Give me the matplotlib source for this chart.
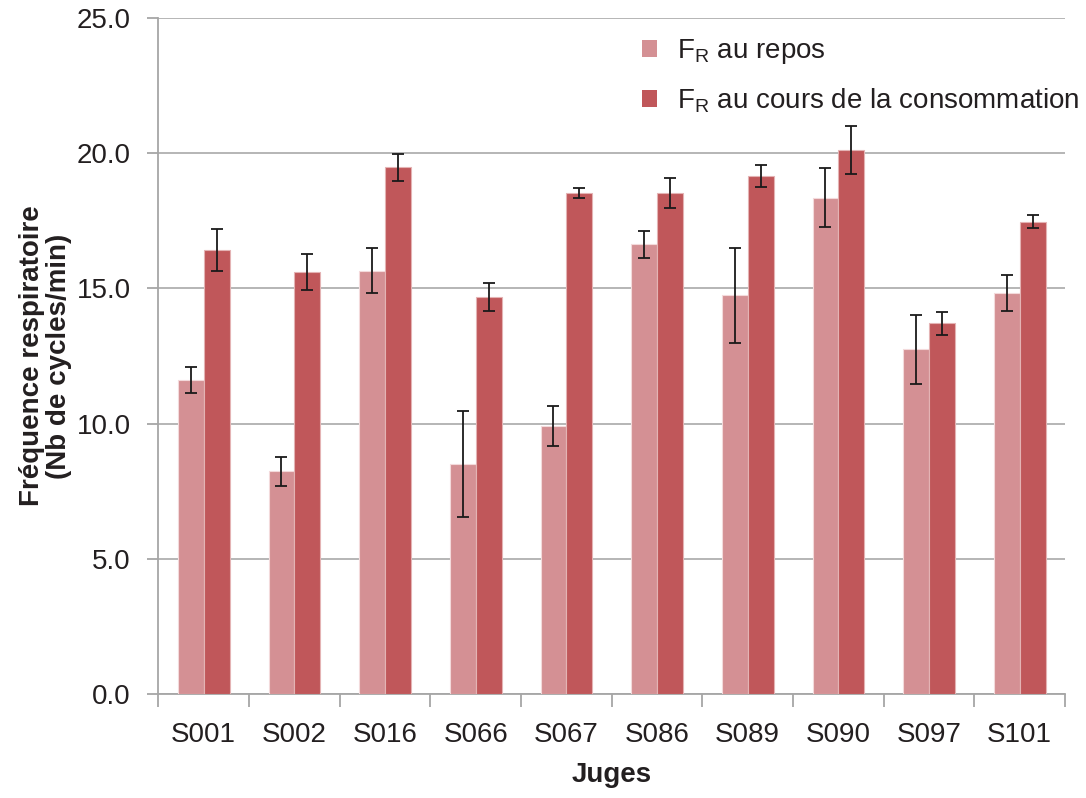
import matplotlib
matplotlib.use("Agg")
import matplotlib.pyplot as plt
import numpy as np
from matplotlib.patches import Patch

judges = ["S001", "S002", "S016", "S066", "S067", "S086", "S089", "S090", "S097", "S101"]
repos = [11.61, 8.24, 15.66, 8.52, 9.92, 16.64, 14.74, 18.35, 12.75, 14.83]
repos_err = [0.49, 0.53, 0.83, 1.96, 0.75, 0.50, 1.74, 1.09, 1.28, 0.65]
conso = [16.42, 15.61, 19.48, 14.68, 18.53, 18.53, 19.16, 20.13, 13.71, 17.47]
conso_err = [0.76, 0.68, 0.50, 0.51, 0.20, 0.56, 0.40, 0.88, 0.43, 0.24]
yticks = [0, 5, 10, 15, 20, 25]
labels = [r"F$_\mathregular{R}$ au repos", r"F$_\mathregular{R}$ au cours de la consommation"]

plt.rcParams['font.family'] = ['Liberation Sans', 'DejaVu Sans']
plt.rcParams['mathtext.fontset'] = 'custom'
plt.rcParams['mathtext.rm'] = 'Liberation Sans'

c_light = "#D49094"
c_dark = "#C0575A"
txt = "#231F20"

fig = plt.figure(figsize=(10.86, 7.98), dpi=100)
ax = fig.add_axes([0.1458, 0.1303, 0.8349, 0.8471])

x = np.arange(len(judges))
w = 0.285
ax.bar(x - w/2, repos, w, color=c_light, edgecolor="#F3DADB", linewidth=0.8, zorder=3)
ax.bar(x + w/2, conso, w, color=c_dark, edgecolor="#E4B3B4", linewidth=0.8, zorder=3)
ax.errorbar(x - w/2, repos, yerr=repos_err, fmt="none", ecolor="#1a1a1a", elinewidth=1.3, capsize=4.5, capthick=1.3, zorder=4)
ax.errorbar(x + w/2, conso, yerr=conso_err, fmt="none", ecolor="#1a1a1a", elinewidth=1.3, capsize=4.5, capthick=1.3, zorder=4)

ax.set_xlim(-0.5, len(judges) - 0.5)
ax.set_ylim(0, 25)
ax.set_yticks(yticks)
ax.set_yticklabels([f"{v:.1f}" for v in yticks], fontsize=20, color=txt)
ax.set_xticks(x)
ax.set_xticklabels(judges, fontsize=20, color=txt)
ax.tick_params(axis='x', length=0, pad=20)
ax.set_xticks(np.arange(-0.5, len(judges)), minor=True)
ax.tick_params(axis='x', which='minor', length=9, width=1.3, color="#A6A6A6")
ax.tick_params(axis='y', length=8, width=1.3, color="#A6A6A6", pad=12)

ax.yaxis.grid(True, color="#B5B5B5", linewidth=1.4, zorder=0)
ax.set_axisbelow(True)
for s in ["top", "right"]:
    ax.spines[s].set_visible(False)
for s in ["left", "bottom"]:
    ax.spines[s].set_color("#A6A6A6")
    ax.spines[s].set_linewidth(1.3)

ax.set_xlabel("Juges", fontsize=20, fontweight="bold", color=txt, labelpad=10)
ax.set_ylabel("Fréquence respiratoire\n(Nb de cycles/min)", fontsize=20, fontweight="bold", color=txt, labelpad=3, linespacing=1.05)

handles = [Patch(facecolor=c_light), Patch(facecolor=c_dark)]
leg = fig.legend(handles, labels, loc="upper left", bbox_to_anchor=(0.568, 0.985), frameon=False,
                 fontsize=20, handlelength=0.55, handleheight=0.55, handletextpad=0.7, labelspacing=0.72)
for t in leg.get_texts():
    t.set_color(txt)

fig.savefig("out.png", dpi=100)
